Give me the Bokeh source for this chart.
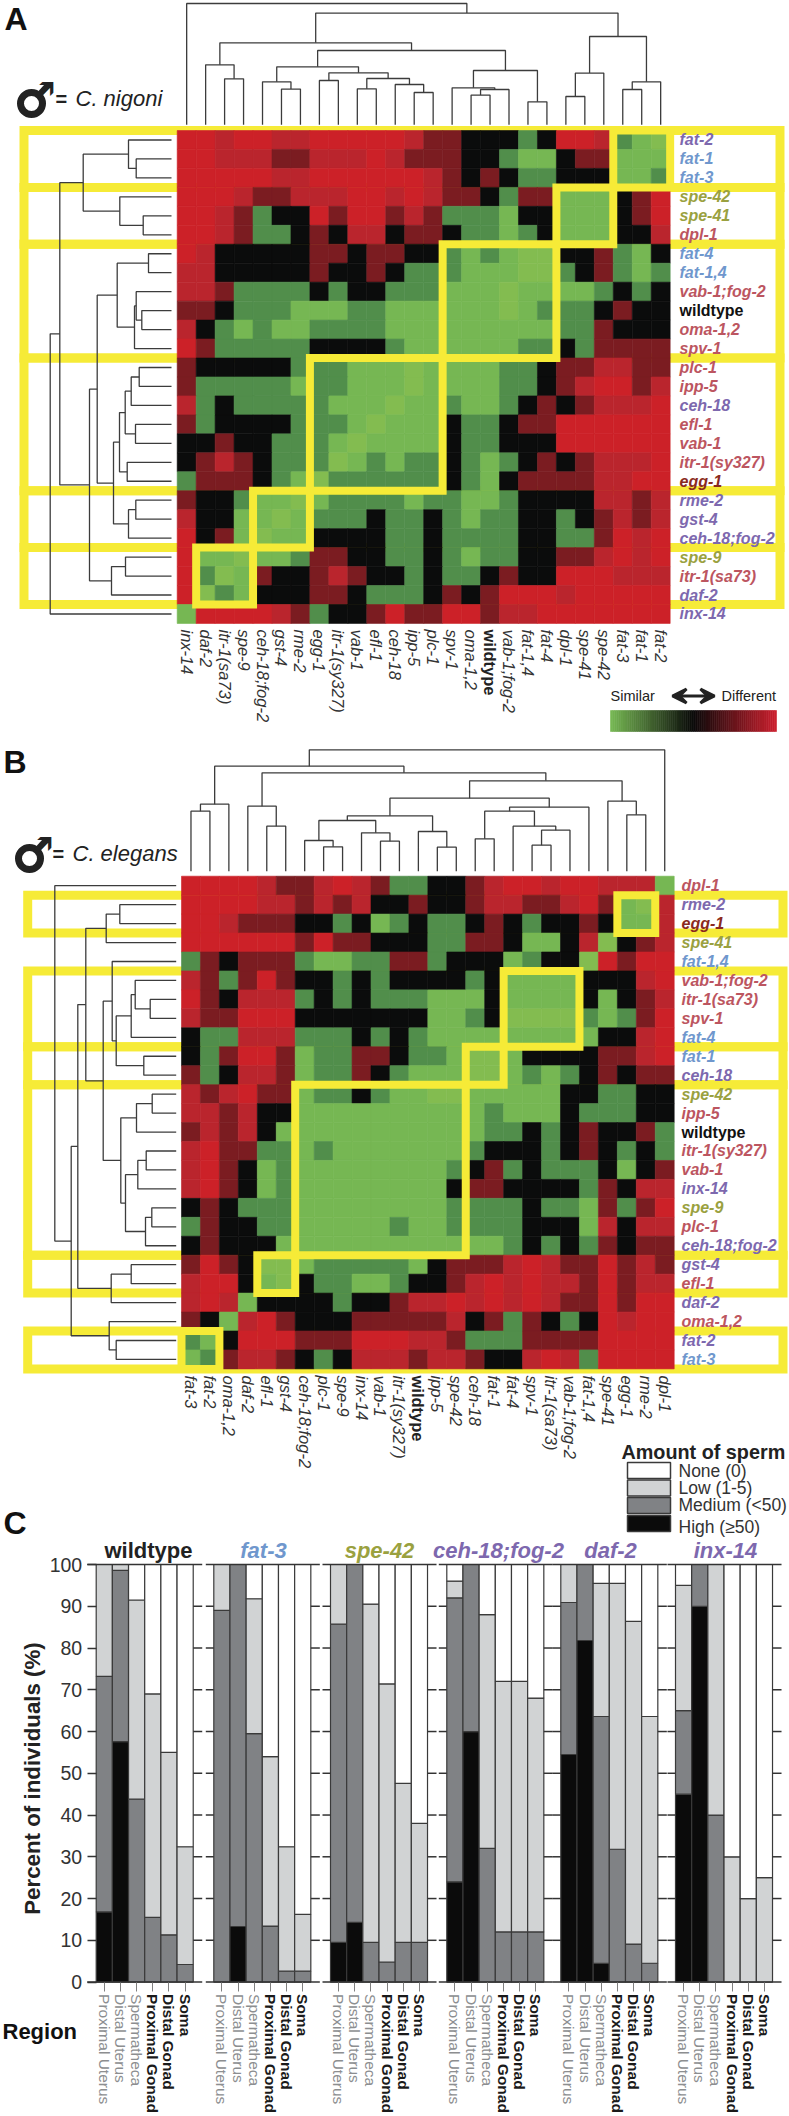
from math import pi
from bokeh.plotting import figure
from bokeh.layouts import column
from bokeh.models import Range1d, LinearAxis, FixedTicker, Arrow, VeeHead
from bokeh.core.properties import value
from bokeh.embed import file_html
from bokeh.resources import INLINE

# ---------- data: panel A ----------
rows_a = ["fat-2","fat-1","fat-3","spe-42","spe-41","dpl-1","fat-4","fat-1,4","vab-1;fog-2","wildtype","oma-1,2","spv-1",
          "plc-1","ipp-5","ceh-18","efl-1","vab-1","itr-1(sy327)","egg-1","rme-2","gst-4","ceh-18;fog-2","spe-9",
          "itr-1(sa73)","daf-2","inx-14"]
matrix_a = [
 "RRrRRrrRRRRRrDDKKKGKRRrGLl",
 "RRrrrDDrrrRrDDDKKGLLKDDLLL",
 "RRRRRrrRRRRRRrDKDKGGKKKLLG",
 "RRRrDDrrrRRrRrDDKGDDLLLKDR",
 "RRrDGKKRDRRDrDGGGLKKLLLKDR",
 "RRrDGGKDKrrKDDKGGLGKLLLKKr",
 "RrKKKKKDDKDDKKGLGLllKKDGLK",
 "rrKKKKKDKKDKGGGLLLllGKDGLG",
 "rrDGGGGKGKKGGGLLLlLLLLGKGK",
 "DDKGGGLLLGGLLLLLLlLGGGKDKK",
 "rKGLGLLGGGGLLLLLLLLLGGDKKK",
 "RDGGGGGKKKKGLLLLLLGGKGDDDD",
 "DKKKKKGGGLLLlLLLLGGKDDrrDD",
 "DGGGGGLGGLLLlLLLLGGKDrRRDr",
 "rGKGGGGGLLLlLLGLLGKDKDrrrR",
 "DGKKKKGGGLlLLLKGGKDDRRRRRR",
 "KKDKKGGGLlLLLLKGGKKKRRRRRR",
 "KDrDKGGGlLGLGGKGLGKDKDrrrR",
 "GDDDKGLlGGGGGGKGLKDDDDrrRR",
 "DKKGLLlLGGGGLGGLLGKKKKrrDr",
 "rKKLLlLGGGKGGKGLGGKKGKDrDr",
 "RKDLlLLKKKKGGKGGGGKKGGDRrR",
 "RLLlLLGDDKKGGKGLGGKKDDrRrR",
 "RGlLDKKDrDKKGKGGKDKKRRRrrr",
 "RlGLKKKDDKGGGKDKDRRRrRRRRR",
 "LRRRRrDGKKDRDDRRDrrRRRRRRR",
]
groups_a = [(0,3),(3,6),(6,12),(12,19),(19,22),(22,25)]
boxes_a = [(23,26,0,3),(20,23,3,6),(14,20,6,12),(7,14,12,19),(4,7,19,22),(1,4,22,25)]
tree_a = (121.3,
          (111.7,
           (88.3, (43,0,(35.3,1,2)), (51.7,3,(28.3,4,5))),
           (82,
            (74.3,
             (54.3,(23,6,7),(37,(35.3,8,(29.7,9,10)),11)),
             (58,
              (52,(46.3,(40.3,(32.3,12,13),14),(36,15,16)),(44.3,17,18)),
              (43,(35.7,19,20),21))),
            (60,(46,22,23),24))),
          25)

# ---------- data: panel B ----------
rows_b = ["dpl-1","rme-2","egg-1","spe-41","fat-1,4","vab-1;fog-2","itr-1(sa73)","spv-1","fat-4","fat-1","ceh-18","spe-42",
          "ipp-5","wildtype","itr-1(sy327)","vab-1","inx-14","spe-9","plc-1","ceh-18;fog-2","gst-4","efl-1","daf-2",
          "oma-1,2","fat-2","fat-3"]
matrix_b = [
 "RRRRrDDrRrDGGKKDrRRrRRrrrL",
 "RRRRrrDrDrKKDKKDrrDDrRDLlr",
 "RRrDDDKKGKLGKGGKDKGKKDKLLr",
 "RRRRRRDRDDKKKGGDDKLLKrlKDr",
 "GDKDDDGLLGGDDGKKKLGKKlRDRR",
 "rDGDRDKKGKGKKKKGKLLLLKKKrR",
 "RDKrrrGKGKGGGLLLKLLLLKLKDr",
 "rDDRRRKKKKKKKLLGKllllGLGDR",
 "KGGrrrGGGKGKGLLLLLLLLLKKrR",
 "KGDRRDLGGDDKGGLllLKKKKDDrR",
 "DGKrrDLGGDKGLLLllLGLGKDKDD",
 "rDrRDDLGGKGLLllLLLLLKKGGKK",
 "rrDrKKLLLLLLLLLLGLLLKGGGKK",
 "DrDrKLLLLLLLLLLLGGKGKDKKDG",
 "rRDDGGLGLLLLLLLGKKKGKDKGKG",
 "rRDKLGLLLLLLLLGKDGKGGGKLKD",
 "rRDKLGLLLLLLLLKDDKKKKGDKrr",
 "KDKGGGLLLLLLLLGGGGKGGLDGDR",
 "GDKKGGLLLLLGLLGGGGKKKLrKrr",
 "KDKKKLLLLLLLLLLLLGKGKGDKDD",
 "DRDKllLGGGGGLKDDDrRrDDRDrD",
 "rRRKLlKGGLLGKKDrRrRrrDRDrr",
 "rRrLKKKKGKKDrrRrRrRrDDRDRR",
 "DKLrRDKKKDDDDDrKDGDKGKRrRR",
 "GLKRRRDDDRRRrrDGGGDDDDRRRR",
 "LGDrrDKGKrrrDrrDKKrRrGRRRR",
]
groups_b = [(1,3),(5,9),(9,11),(11,20),(20,22),(24,26)]
boxes_b = [(23,25,1,3),(17,21,5,9),(15,17,9,11),(6,15,11,20),(4,6,20,22),(0,2,24,26)]
tree_b = (121.4, 0,
          (105,
           (98.4,
            (90.4,
             (70,(56.4,1,2),3),
             (73,
              (64,4,(60,(45,(41,5,(26,6,7)),8),(32.4,9,10))),
              (55.4,
               (39.7,(24,11,12),13),
               (50.7,(38.4,(30,14,15),16),(30.7,(24.4,17,18),19))))),
            (65,(45,20,21),22)),
           (67,23,(60,24,25))))

# ---------- data: panel C ----------
regions = ["Proximal Uterus","Distal Uterus","Spermatheca","Proximal Gonad","Distal Gonad","Soma"]
strains = ["wildtype","fat-3","spe-42","ceh-18;fog-2","daf-2","inx-14"]
high = [[16.8,57.6,0,0,0,0],[0,13.3,0,0,0,0],[9.5,14.3,0,0,0,0],[24,60,0,0,0,0],[54.5,81.8,4.5,0,0,0],[45,90,0,0,0,0]]
medium = [[73.2,98.6,43.8,15.5,11.3,4.2],[89,100,59.5,13.4,2.6,2.6],[85.7,100,9.5,4.8,9.5,9.5],
          [92,100,32,12,12,12],[90.9,100,63.6,31.8,9.1,4.5],[65,100,40,0,0,0]]
low = [[100,100,91.5,69,55,32.4],[100,100,91.8,54,32.4,16.2],[100,100,90.5,71.4,47.6,38],
       [96,100,88,72,72,68],[100,100,95.5,95.5,86.4,63.6],[95,100,100,30,20,25]]
y_ticks = [0,10,20,30,40,50,60,70,80,90,100]
sperm_levels = ["None (0)","Low (1-5)","Medium (<50)","High (\u226550)"]

# ---------- styling ----------
CELL = {"R":"#cc2128","r":"#ba252d","D":"#7b1c21","K":"#0b0c0c","G":"#518e4b","L":"#76b753","l":"#83bc50"}
YELLOW = "#f6eb37"
PURPLE, BLUE, OLIVE, RED, DARK = "#7d68ae","#6f97cd","#9aa13f","#bc5560","#8a2a20"
def gene_colour(n):
    if n == "wildtype": return "#111111"
    if n == "egg-1": return DARK
    if n == "fat-2": return PURPLE
    if n.startswith("fat"): return BLUE
    if n.startswith("spe"): return OLIVE
    if n in ("ceh-18","ceh-18;fog-2","rme-2","gst-4","daf-2","inx-14"): return PURPLE
    return RED
FONT = value("Liberation Sans")

def make_fig(y0, y1):
    return figure(width=789, height=y1-y0, x_range=Range1d(0,789), y_range=Range1d(y1,y0),
                  output_backend="svg", toolbar_location=None, x_axis_type=None, y_axis_type=None,
                  min_border=0, outline_line_color=None, background_fill_color=None, border_fill_color=None)

def walk(tree, pos, segs):
    """Return (position, height) of node and collect its connector."""
    if isinstance(tree, int):
        return pos(tree), 0.0
    h, a, b = tree
    pa, ha = walk(a, pos, segs)
    pb, hb = walk(b, pos, segs)
    segs.append(([pa,pa,pb,pb],[ha,h,h,hb]))
    return (pa+pb)/2, h

def heat_panel(y0, y1, rows, matrix, groups, boxes, tree, x0, top, cell, band_l, band_r, lab_x, col_lab_y, gap_top, gap_left):
    p = make_fig(y0, y1)
    p.extra_x_ranges = {"col": Range1d((0-x0)/cell, (789-x0)/cell)}
    p.extra_y_ranges = {"row": Range1d((y1-top)/cell, (y0-top)/cell)}
    # bands behind heatmap
    p.quad(left=[band_l]*len(groups), right=[band_r]*len(groups), top=[g[0] for g in groups], bottom=[g[1] for g in groups],
           y_range_name="row", fill_color=None, line_color=YELLOW, line_width=9, line_join="miter")
    # cells
    L,R,T,B,C = [],[],[],[],[]
    for i,row in enumerate(matrix):
        for j,ch in enumerate(row):
            L.append(j);R.append(j+1);T.append(i);B.append(i+1);C.append(CELL[ch])
    p.quad(left=L,right=R,top=T,bottom=B,fill_color=C,line_color=C,line_width=0.6,x_range_name="col",y_range_name="row")
    # diagonal boxes
    p.quad(left=[b[0] for b in boxes], right=[b[1] for b in boxes], top=[b[2] for b in boxes], bottom=[b[3] for b in boxes],
           x_range_name="col", y_range_name="row", fill_color=None, line_color=YELLOW, line_width=8, line_join="miter")
    # dendrograms
    n = len(rows)
    segs=[]; walk(tree, lambda r: r+0.5, segs)
    p.multi_line(xs=[[x0-gap_left-h for h in s[1]] for s in segs], ys=[s[0] for s in segs], y_range_name="row",
                 line_color="#3c3c3c", line_width=1.3)
    segs=[]; walk(tree, lambda r: n-r-0.5, segs)
    p.multi_line(xs=[s[0] for s in segs], ys=[[top-gap_top-h for h in s[1]] for s in segs],
                 x_range_name="col", line_color="#3c3c3c", line_width=1.3)
    # row labels
    idx=[i for i,r in enumerate(rows) if r!="wildtype"]
    p.text(x=[lab_x]*len(idx), y=[i+0.5 for i in idx], text=[rows[i] for i in idx], y_range_name="row",
           text_color=[gene_colour(rows[i]) for i in idx], text_font=FONT, text_font_style="bold italic",
           text_font_size="16px", text_baseline="middle", text_align="left")
    w=rows.index("wildtype")
    p.text(x=[lab_x], y=[w+0.5], text=["wildtype"], y_range_name="row", text_color="#111111", text_font=FONT,
           text_font_style="bold", text_font_size="16px", text_baseline="middle")
    # column labels
    p.text(x=[n-i-0.5 for i in idx], y=[col_lab_y]*len(idx), text=[rows[i] for i in idx], x_range_name="col",
           text_color="#333333", text_font=FONT, text_font_style="italic", text_font_size="16.5px",
           text_baseline="middle", text_align="left", angle=-pi/2)
    p.text(x=[n-w-0.5], y=[col_lab_y], text=["wildtype"], x_range_name="col", text_color="#222222", text_font=FONT,
           text_font_style="bold", text_font_size="16.5px", text_baseline="middle", text_align="left", angle=-pi/2)
    return p

def species(p, cx, cy, eq_x, name_x, name):
    # male sign: real glyph, thickened by a ring and shaft to the weight of the reference
    p.text(x=[cx+4], y=[cy-5], text=["\u2642"], text_font=value("DejaVu Sans"), text_font_style="bold",
           text_font_size="46px", text_align="center", text_baseline="middle", text_color="#222222")
    p.scatter(x=[cx], y=[cy], marker="circle", size=22, fill_color=None, line_color="#222222", line_width=7)
    p.line(x=[cx+7,cx+17], y=[cy-8,cy-19], line_color="#222222", line_width=6)
    p.text(x=[eq_x], y=[cy-5], text=["="], text_font=FONT, text_font_style="bold", text_font_size="20px",
           text_align="left", text_baseline="middle", text_color="#222222")
    p.text(x=[name_x], y=[cy-5], text=[name], text_font=FONT, text_font_style="italic", text_font_size="22px",
           text_align="left", text_baseline="middle", text_color="#222222")

def letter(p, x, y, s, **kw):
    p.text(x=[x], y=[y], text=[s], text_font=FONT, text_font_style="bold", text_font_size="32px",
           text_align="left", text_baseline="middle", text_color="#111111", **kw)

# ---------- panel A ----------
pa = heat_panel(0, 740, rows_a, matrix_a, groups_a, boxes_a, tree_a, 176.7, 130, 18.96, 23.5, 779.5, 679, 629, 5.7, 5.7)
letter(pa, 4, 18, "A")
species(pa, 31, 103, 55, 75, "C. nigoni")
pa.text(x=[610], y=[695], text=["Similar"], text_font=FONT, text_font_size="14.5px", text_baseline="middle", text_color="#222222")
pa.text(x=[721], y=[695], text=["Different"], text_font=FONT, text_font_size="14.5px", text_baseline="middle", text_color="#222222")
pa.add_layout(Arrow(x_start=672, x_end=714, y_start=695.5, y_end=695.5, line_width=3, line_color="#222222",
                    start=VeeHead(size=14, line_color="#222222", line_width=3, fill_color="#222222"),
                    end=VeeHead(size=14, line_color="#222222", line_width=3, fill_color="#222222")))
def ramp(a, b, t):
    return "#%02x%02x%02x" % tuple(int(a[k]+(b[k]-a[k])*t) for k in range(3))
n_ramp = 80
ramp_c = []
for k in range(n_ramp):
    t = k/(n_ramp-1)
    ramp_c.append(ramp((118,183,83),(10,10,10),t*2) if t<0.5 else ramp((10,10,10),(201,32,46),(t-0.5)*2))
bar_l, bar_r = 610, 776
pa.quad(left=[bar_l+(bar_r-bar_l)*k/n_ramp for k in range(n_ramp)], right=[bar_l+(bar_r-bar_l)*(k+1)/n_ramp for k in range(n_ramp)],
        top=710, bottom=731, fill_color=ramp_c, line_color=ramp_c, line_width=0.6)

# ---------- panel B ----------
pb = heat_panel(740, 1470, rows_b, matrix_b, groups_b, boxes_b, tree_b, 181, 875.7, 18.95, 27.2, 782.5, 681, 1375, 5, 5.3)
letter(pb, 3, 761, "B")
species(pb, 29, 858, 52, 72, "C. elegans")

# ---------- panel C ----------
pc = figure(width=789, height=676, x_range=Range1d(0,789), y_range=Range1d(-32.2,129.7),
            output_backend="svg", toolbar_location=None, x_axis_type=None, y_axis_type=None,
            min_border=0, outline_line_color=None, background_fill_color=None, border_fill_color=None,
            margin=(-30,0,0,0))
pc.extra_y_ranges = {"px": Range1d(2116,1440)}
group_left = [95.7,213.3,330,446.3,560.3,675]
bar_w = 16.17
FILL = {"high":"#0b0b0b","medium":"#808285","low":"#d1d3d4","none":"#ffffff"}
EDGE = "#3a3a3a"
L,R,T,B,C = [],[],[],[],[]
for g,gl in enumerate(group_left):
    for i in range(6):
        levels=[0,high[g][i],medium[g][i],low[g][i],100]
        for k,name in enumerate(["high","medium","low","none"]):
            if levels[k+1] > levels[k]:
                L.append(gl+i*bar_w);R.append(gl+(i+1)*bar_w);B.append(levels[k]);T.append(levels[k+1]);C.append(FILL[name])
pc.quad(left=L,right=R,top=T,bottom=B,fill_color=C,line_color=EDGE,line_width=1.2)
# frame lines and side ticks of every group
xs,ys=[],[]
for gl in group_left:
    gr=gl+6*bar_w
    for v in (0,100):
        xs.append([gl-8 if gl>100 else gl-9, gr+9]); ys.append([v,v])
    for v in y_ticks[1:-1]:
        xs.append([gr,gr+9]); ys.append([v,v])
        if gl>100:
            xs.append([gl-8,gl]); ys.append([v,v])
pc.multi_line(xs=xs,ys=ys,line_color="#333333",line_width=1.5)
# axes
yax = LinearAxis(fixed_location=group_left[0], ticker=FixedTicker(ticks=y_ticks), axis_line_color=None,
                 major_tick_out=9, major_tick_in=0, minor_tick_out=0, minor_tick_in=0, major_tick_line_color="#333333",
                 major_tick_line_width=1.5, major_label_text_font="Liberation Sans", major_label_text_font_size="19.5px",
                 major_label_text_color="#333333", major_label_standoff=5, axis_label="Percent of individuals (%)",
                 axis_label_text_font="Liberation Sans", axis_label_text_font_style="bold",
                 axis_label_text_font_size="22.3px", axis_label_text_color="#222222", axis_label_standoff=2)
pc.add_layout(yax,"left")
def x_axis(idx, colour, style):
    ticks=[round(gl+(i+0.5)*bar_w,2) for gl in group_left for i in idx]
    over={round(gl+(i+0.5)*bar_w,2):regions[i] for gl in group_left for i in idx}
    ax=LinearAxis(fixed_location=0, ticker=FixedTicker(ticks=ticks), major_label_overrides=over, axis_line_color=None,
                  major_tick_out=9, major_tick_in=0, minor_tick_out=0, minor_tick_in=0, major_tick_line_color="#7f7f7f",
                  major_label_orientation="vertical", major_label_standoff=3, major_label_text_font="Liberation Sans",
                  major_label_text_font_size="15.5px", major_label_text_color=colour, major_label_text_font_style=style)
    pc.add_layout(ax,"below")
x_axis([0,1,2],"#8c8e90","normal")
x_axis([3,4,5],"#1a1a1a","bold")
# strain titles
centres=[148,263,379,498,610,725]
colours=["#222222",BLUE,OLIVE,PURPLE,PURPLE,PURPLE]
pc.text(x=centres[:1], y=[1550], text=strains[:1], y_range_name="px", text_font=FONT, text_font_style="bold", text_font_size="22px",
        text_align="center", text_baseline="middle", text_color=colours[:1])
pc.text(x=centres[1:], y=[1550]*5, text=strains[1:], y_range_name="px", text_font=FONT, text_font_style="bold italic", text_font_size="22px",
        text_align="center", text_baseline="middle", text_color=colours[1:])
letter(pc, 3, 1522, "C", y_range_name="px")
pc.text(x=[2], y=[2031], text=["Region"], y_range_name="px", text_font=FONT, text_font_style="bold", text_font_size="22px",
        text_baseline="middle", text_color="#111111")
# legend
pc.text(x=[621], y=[1451], text=["Amount of sperm"], y_range_name="px", text_font=FONT, text_font_style="bold",
        text_font_size="19.8px", text_baseline="middle", text_color="#222222")
sw_top=[1462,1479.5,1497,1515]; sw_bot=[1478,1495.5,1513,1531]; lab_y=[1470,1487,1504,1526]
pc.quad(left=627,right=670,top=sw_top,bottom=sw_bot,y_range_name="px",
        fill_color=[FILL["none"],FILL["low"],FILL["medium"],FILL["high"]],line_color=EDGE,line_width=1.5)
pc.text(x=[678]*4,y=lab_y,text=sperm_levels,y_range_name="px",text_font=FONT,text_font_size="17.5px",
        text_baseline="middle",text_color="#333333")

root = column(pa, pb, pc, spacing=0)
open("out.html","w").write(file_html(root, INLINE))
